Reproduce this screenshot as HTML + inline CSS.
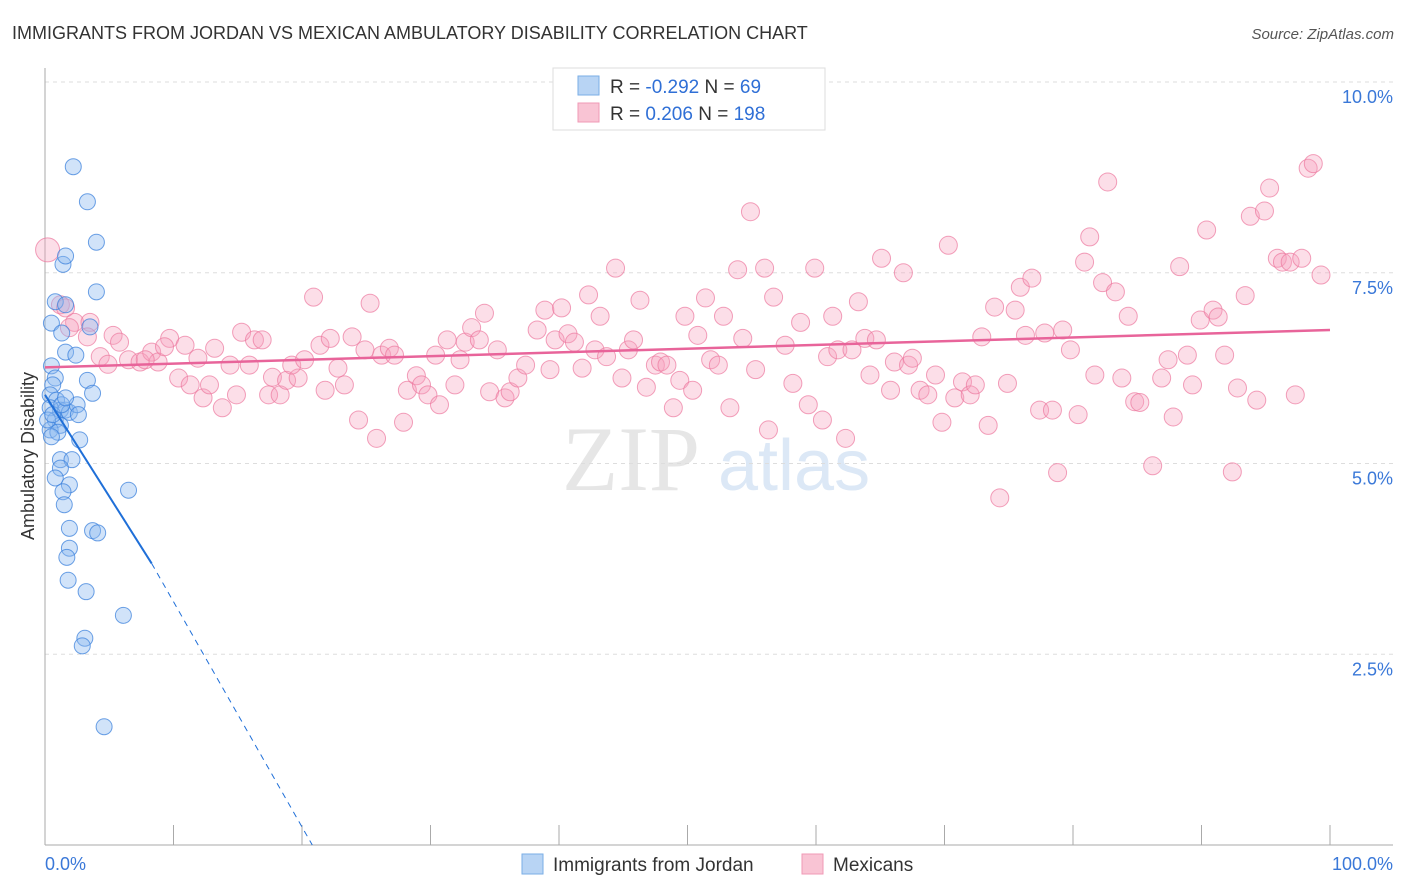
<!DOCTYPE html>
<html><head><meta charset="utf-8"><style>
body{margin:0;background:#fff;font-family:"Liberation Sans",sans-serif;}
svg{display:block}
</style></head><body>
<svg id="chart" width="1406" height="892" viewBox="0 0 1406 892">
<text x="12" y="39" font-size="18" fill="#333">IMMIGRANTS FROM JORDAN VS MEXICAN AMBULATORY DISABILITY CORRELATION CHART</text>
<text x="1394" y="39" font-size="15" fill="#555" text-anchor="end" font-style="italic">Source: ZipAtlas.com</text>
<text x="700" y="490" font-size="92" fill="#e6e6e6" text-anchor="end" font-family="Liberation Serif">ZIP</text>
<text x="718" y="490" font-size="72" fill="#dce8f6">atlas</text>
<text transform="translate(34,456) rotate(-90)" font-size="18" fill="#333" text-anchor="middle">Ambulatory Disability</text>
<g id="grid"></g>
<g id="axes"></g>
<g id="pinkpts"></g>
<g id="bluepts"></g>
<g id="trends"></g>
<g>
<rect x="553" y="68" width="272" height="62" fill="#fff" stroke="#ddd"/>
<rect x="578" y="76" width="21" height="19" fill="#b8d4f4" stroke="#7aaee6"/>
<rect x="578" y="103" width="21" height="19" fill="#f9c4d4" stroke="#f09ab6"/>
<text x="610" y="93" font-size="19" fill="#333">R = <tspan fill="#2f6fd6">-0.292</tspan>   N =  <tspan fill="#2f6fd6">69</tspan></text>
<text x="610" y="120" font-size="19" fill="#333">R =  <tspan fill="#2f6fd6">0.206</tspan>   N = <tspan fill="#2f6fd6">198</tspan></text>
</g>
<g>
<rect x="522" y="854" width="21" height="20" fill="#b8d4f4" stroke="#7aaee6"/>
<text x="553" y="871" font-size="19" fill="#333">Immigrants from Jordan</text>
<rect x="802" y="854" width="21" height="20" fill="#f9c4d4" stroke="#f09ab6"/>
<text x="833" y="871" font-size="19" fill="#333">Mexicans</text>
</g>
</svg>
<script>
const yTicks=[2.5,5.0,7.5,10.0];
const yTickLabels=["2.5%","5.0%","7.5%","10.0%"];
const xTickLabels=["0.0%","100.0%"];
const blueX=[2.2,3.3,4.0,1.4,1.6,4.0,0.8,1.6,0.5,1.3,3.5,1.6,2.4,0.5,0.8,0.6,3.3,3.7,0.4,0.9,1.2,0.4,1.6,1.9,2.5,2.6,0.8,1.2,0.4,1.0,0.5,2.7,1.2,2.1,1.2,0.8,1.9,1.4,1.5,6.5,1.9,3.7,4.1,1.9,1.7,1.8,3.2,6.1,3.1,2.9,4.6,0.2,0.6,1.3,1.6];
const blueY=[8.89,8.43,7.90,7.61,7.72,7.25,7.12,7.08,6.84,6.71,6.79,6.46,6.42,6.28,6.12,6.03,6.09,5.92,5.90,5.83,5.70,5.73,5.70,5.67,5.77,5.64,5.57,5.50,5.44,5.41,5.35,5.31,5.05,5.05,4.94,4.81,4.72,4.63,4.46,4.65,4.15,4.12,4.09,3.89,3.77,3.47,3.32,3.01,2.71,2.61,1.55,5.57,5.64,5.77,5.86];
const pinkX=[0.2,1.2,1.6,2.3,3.5,1.9,3.3,5.3,5.8,4.3,4.9,6.5,7.4,8.3,8.8,7.8,9.7,10.9,9.3,10.4,11.3,11.9,12.3,12.8,13.2,13.8,14.4,14.9,15.3,16.3,16.9,15.9,17.4,17.7,18.3,18.8,19.7,19.2,20.2,20.9,21.4,22.2,21.8,22.8,23.3,23.9,24.4,24.9,25.3,25.8,26.2,26.8,27.2,27.9,28.2,28.9,29.3,29.8,30.4,30.7,31.3,31.9,32.3,32.7,33.2,33.8,34.2,34.6,35.2,35.8,36.2,36.8,37.4,38.3,38.9,39.3,39.7,40.2,40.7,41.2,41.8,42.3,42.8,43.2,43.7,44.4,44.9,45.4,45.8,46.3,46.8,47.5,47.9,48.4,48.9,49.4,49.8,50.4,50.8,51.4,51.8,52.4,52.8,53.3,53.9,54.3,54.9,55.3,56.0,56.3,56.7,57.6,58.2,58.8,59.4,59.9,60.5,60.9,61.3,61.7,62.3,62.8,63.3,63.8,64.2,64.7,65.1,65.8,66.1,66.8,67.2,67.5,68.1,68.7,69.3,69.8,70.3,70.8,71.4,72.0,72.4,72.9,73.4,73.9,74.3,74.9,75.5,75.9,76.3,76.8,77.4,77.8,78.4,78.8,79.2,79.8,80.4,80.9,81.3,81.7,82.3,82.7,83.3,83.8,84.3,84.8,85.2,86.2,86.9,87.4,87.8,88.3,88.9,89.3,89.9,90.4,90.9,91.3,91.8,92.4,92.8,93.4,93.8,94.3,94.9,95.3,95.9,96.3,96.9,97.3,97.8,98.3,98.7,99.3];
const pinkY=[7.80,7.08,7.04,6.85,6.85,6.78,6.66,6.68,6.59,6.40,6.30,6.36,6.33,6.46,6.33,6.36,6.64,6.55,6.53,6.12,6.03,6.38,5.86,6.03,6.51,5.73,6.29,5.90,6.72,6.62,6.62,6.29,5.90,6.13,5.90,6.09,6.12,6.29,6.36,7.18,6.55,6.64,5.96,6.25,6.03,6.66,5.57,6.49,7.10,5.33,6.42,6.51,6.42,5.54,5.96,6.15,6.03,5.90,6.42,5.77,6.62,6.03,6.36,6.59,6.78,6.62,6.97,5.94,6.49,5.86,5.94,6.12,6.29,6.75,7.01,6.23,6.62,7.04,6.70,6.59,6.25,7.21,6.49,6.93,6.40,7.56,6.12,6.49,6.62,7.14,6.00,6.29,6.33,6.29,5.73,6.09,6.93,5.96,6.68,7.17,6.36,6.29,6.93,5.73,7.54,6.64,8.30,6.23,7.56,5.44,7.18,6.55,6.05,6.85,5.77,7.56,5.57,6.40,6.93,6.49,5.33,6.49,7.12,6.64,6.16,6.62,7.69,5.96,6.33,7.50,6.29,6.38,5.96,5.90,6.16,5.54,7.86,5.86,6.07,5.90,6.03,6.66,5.50,7.05,4.55,6.05,7.01,7.31,6.68,7.43,5.70,6.71,5.70,4.88,6.75,6.49,5.64,7.64,7.97,6.16,7.37,8.69,7.25,6.12,6.93,5.81,5.80,4.97,6.12,6.36,5.61,7.58,6.42,6.03,6.88,8.06,7.01,6.92,6.42,4.89,5.99,7.20,8.24,5.83,8.31,8.61,7.69,7.64,7.64,5.90,7.69,8.87,8.93,7.47];
const blueTrend=[0,5.9,8.3,3.69,20.8,0];
const pinkTrend=[0,6.26,100,6.75];
const NS="http://www.w3.org/2000/svg";
const X0=45,X1=1330,Y0=845,PX=76.3;
const sx=v=>X0+(X1-X0)*v/100, sy=v=>Y0-v*PX;
function mk(tag,attrs,parent){const e=document.createElementNS(NS,tag);for(const k in attrs)e.setAttribute(k,attrs[k]);parent.appendChild(e);return e;}
const grid=document.getElementById('grid'),axes=document.getElementById('axes');
yTicks.forEach((t,i)=>{
 const l=mk('line',{x1:X0,x2:1393,y1:sy(t),y2:sy(t),stroke:'#ddd','stroke-dasharray':'4,4'},grid);
 
 
 const tx=mk('text',{x:1393,y:sy(t)+21,'font-size':18,fill:'#3a78d8','text-anchor':'end'},axes);
 tx.textContent=yTickLabels[i];
 
 
});
mk('line',{x1:X0,x2:X0,y1:68,y2:Y0,stroke:'#aaa'},axes);
mk('line',{x1:X0,x2:1393,y1:Y0,y2:Y0,stroke:'#aaa'},axes);
for(let i=0;i<=10;i++){const t=mk('line',{x1:sx(i*10),x2:sx(i*10),y1:825,y2:Y0,stroke:'#aaa'},axes);
 
 }
const xl0=mk('text',{x:45,y:870,'font-size':18,fill:'#3a78d8'},axes);xl0.textContent=xTickLabels[0];


const xl1=mk('text',{x:1393,y:870,'font-size':18,fill:'#3a78d8','text-anchor':'end'},axes);xl1.textContent=xTickLabels[1];


const pg=document.getElementById('pinkpts');
pinkX.forEach((x,i)=>{const r=i===0?12:9;const c=mk('circle',{cx:sx(x),cy:sy(pinkY[i]),r:r,fill:'rgba(246,160,188,0.35)',stroke:'rgba(236,120,158,0.7)','stroke-width':1},pg);
 
 });
const bg=document.getElementById('bluepts');
blueX.forEach((x,i)=>{const c=mk('circle',{cx:sx(x),cy:sy(blueY[i]),r:8,fill:'rgba(140,186,240,0.4)',stroke:'rgba(60,130,220,0.75)','stroke-width':1},bg);
 
 });
const tg=document.getElementById('trends');
const b1=mk('line',{x1:sx(blueTrend[0]),y1:sy(blueTrend[1]),x2:sx(blueTrend[2]),y2:sy(blueTrend[3]),stroke:'#1f6fd8','stroke-width':2},tg);


const b2=mk('line',{x1:sx(blueTrend[2]),y1:sy(blueTrend[3]),x2:sx(blueTrend[4]),y2:sy(blueTrend[5]),stroke:'#1f6fd8','stroke-width':1,'stroke-dasharray':'6,5'},tg);


const p1=mk('line',{x1:sx(pinkTrend[0]),y1:sy(pinkTrend[1]),x2:sx(pinkTrend[2]),y2:sy(pinkTrend[3]),stroke:'#e8649a','stroke-width':2.5},tg);


</script>
</body></html>
